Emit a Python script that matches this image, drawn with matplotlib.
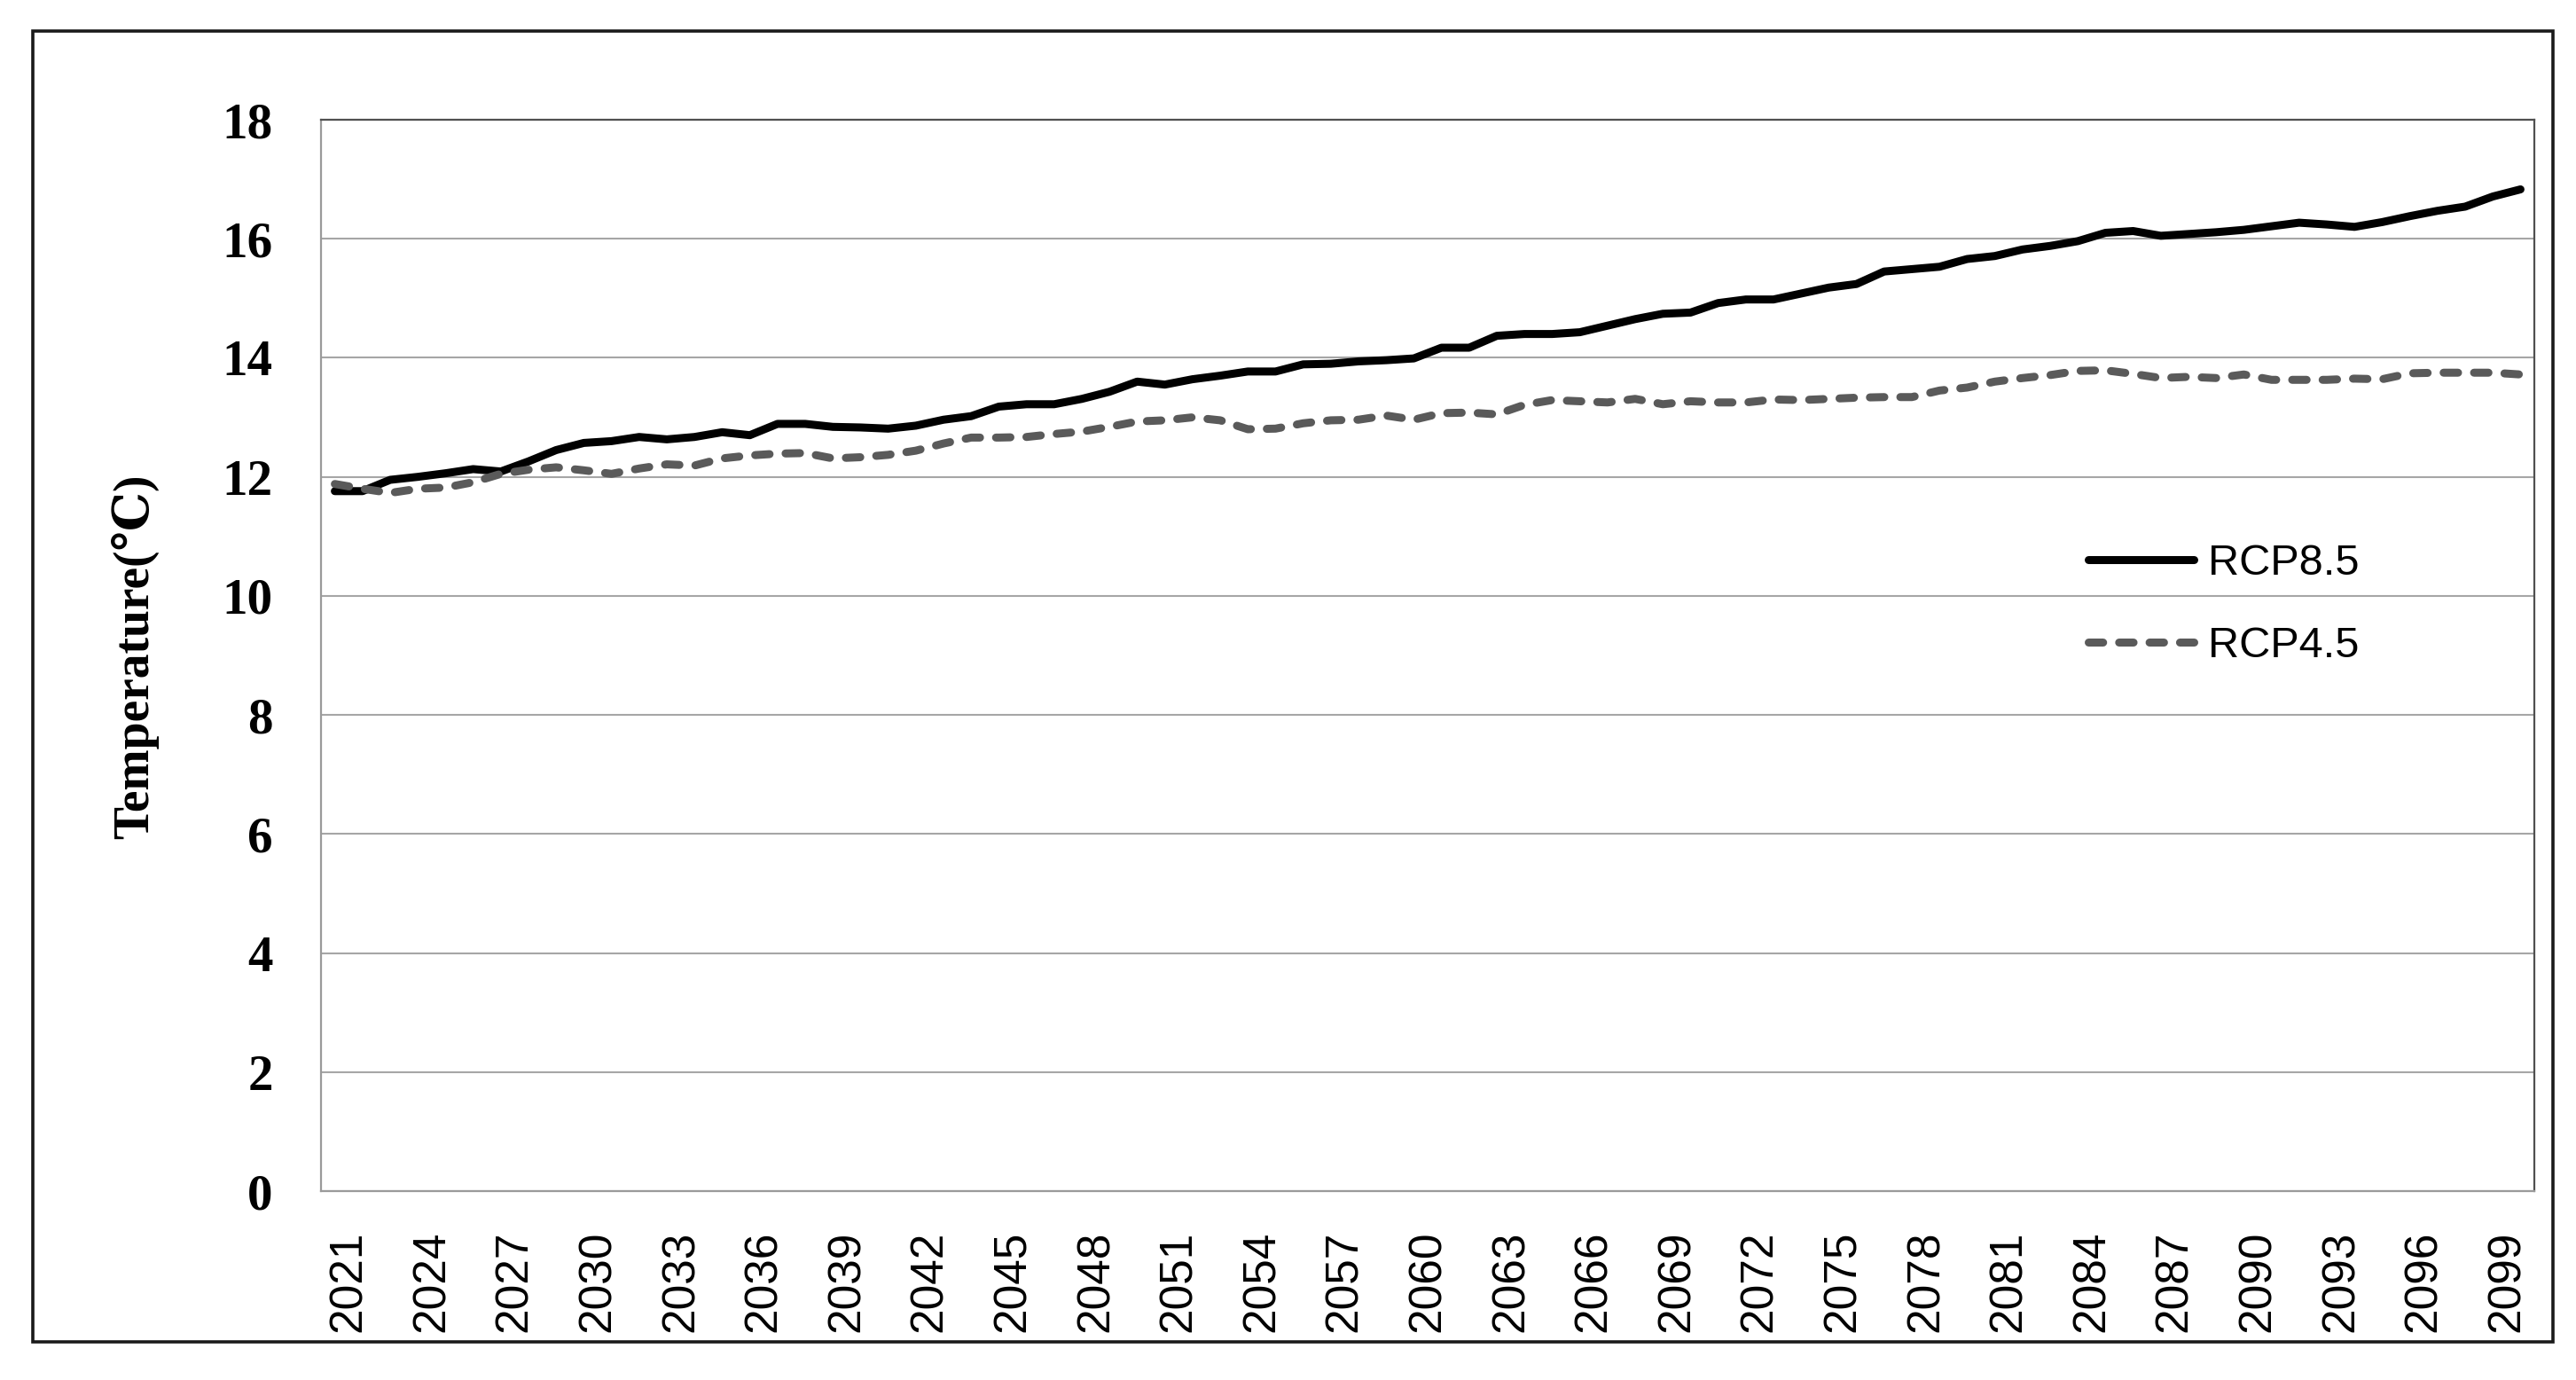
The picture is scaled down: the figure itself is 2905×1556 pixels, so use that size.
import matplotlib
matplotlib.use("Agg")
import matplotlib.pyplot as plt
from matplotlib.patches import Rectangle
from matplotlib.transforms import ScaledTranslation

# Data (annual mean temperature)
years = list(range(2021, 2101))
rcp85 = [11.76, 11.76, 11.95, 12.00, 12.06, 12.13, 12.09, 12.26, 12.45, 12.57,
         12.60, 12.67, 12.63, 12.67, 12.75, 12.70, 12.89, 12.89, 12.84, 12.83,
         12.81, 12.86, 12.96, 13.02, 13.18, 13.22, 13.22, 13.31, 13.43, 13.60,
         13.55, 13.64, 13.70, 13.77, 13.77, 13.89, 13.90, 13.94, 13.96, 13.99,
         14.17, 14.17, 14.37, 14.40, 14.40, 14.43, 14.54, 14.65, 14.74, 14.76,
         14.92, 14.98, 14.98, 15.08, 15.18, 15.24, 15.45, 15.49, 15.53, 15.66,
         15.71, 15.82, 15.88, 15.96, 16.10, 16.13, 16.05, 16.08, 16.11, 16.15,
         16.21, 16.27, 16.24, 16.20, 16.28, 16.38, 16.47, 16.54, 16.71, 16.83]
rcp45 = [11.88, 11.80, 11.73, 11.80, 11.82, 11.91, 12.05, 12.12, 12.16, 12.11,
         12.05, 12.14, 12.21, 12.19, 12.31, 12.36, 12.39, 12.40, 12.31, 12.33,
         12.37, 12.44, 12.56, 12.66, 12.66, 12.67, 12.72, 12.76, 12.84, 12.93,
         12.95, 13.00, 12.95, 12.80, 12.81, 12.90, 12.95, 12.96, 13.03, 12.96,
         13.07, 13.08, 13.05, 13.21, 13.29, 13.27, 13.25, 13.31, 13.22, 13.27,
         13.25, 13.25, 13.30, 13.29, 13.31, 13.33, 13.34, 13.34, 13.45, 13.50,
         13.60, 13.66, 13.71, 13.78, 13.79, 13.73, 13.66, 13.68, 13.66, 13.72,
         13.63, 13.63, 13.63, 13.65, 13.64, 13.74, 13.75, 13.75, 13.75, 13.72]
y_ticks = list(range(0, 19, 2))
label_step = 3

W, H, DPI = 2905, 1556, 100
fig = plt.figure(figsize=(W / DPI, H / DPI), dpi=DPI)
fig.patch.set_facecolor("white")

# outer frame around the whole chart
fig.patches.append(Rectangle((37 / W, 1 - 1513 / H), (2879 - 37) / W, (1513 - 35) / H,
                             transform=fig.transFigure, fill=False,
                             edgecolor="#1a1a1a", linewidth=2.6, zorder=0))

ax = fig.add_axes([362 / W, 1 - 1343 / H, (2858 - 362) / W, (1343 - 135) / H])

x = list(range(len(years)))
ax.plot(x, rcp85, color="black", linewidth=6.5, solid_capstyle="round",
        solid_joinstyle="round", label="RCP8.5", zorder=3)
ax.plot(x, rcp45, color="#5a5a5a", linewidth=6.5, linestyle=(0, (1.8, 2.0)),
        dash_capstyle="round", dash_joinstyle="round", label="RCP4.5", zorder=3)

ax.set_xlim(-0.5, len(years) - 0.5)
ax.set_ylim(0, 18)
ax.set_yticks(y_ticks)
ax.yaxis.grid(True, color="#a6a6a6", linewidth=1.5)
ax.set_axisbelow(True)

ax.tick_params(axis="y", length=0, pad=39)
ax.tick_params(axis="x", length=0, pad=32)
for t in ax.get_yticklabels():
    t.set_fontfamily("Liberation Serif")
    t.set_fontweight("bold")
    t.set_fontsize(41)

ax.set_xticks(x[::label_step])
ax.set_xticklabels([str(y) for y in years[::label_step]], rotation=90,
                   fontfamily="Liberation Sans", fontsize=37)
shift = ScaledTranslation(16 / DPI, 0, fig.dpi_scale_trans)
for t in ax.get_xticklabels():
    t.set_transform(t.get_transform() + shift)

for side in ["left", "bottom"]:
    ax.spines[side].set_color("#9a9a9a")
    ax.spines[side].set_linewidth(1.6)
for side in ["top", "right"]:
    ax.spines[side].set_color("#505050")
    ax.spines[side].set_linewidth(1.6)

fig.text(152 / W, 1 - 740 / H, "Temperature(℃)", rotation=90, ha="center", va="center",
         fontsize=40, fontweight="bold", family=["Liberation Serif", "DejaVu Serif"])

ax.legend(loc="center left", bbox_to_anchor=(2355 / W, 1 - 682 / H),
          bbox_transform=fig.transFigure, frameon=False, borderpad=0, borderaxespad=0,
          handlelength=2.45, handletextpad=0.33, labelspacing=0.98,
          prop={"family": "Liberation Sans", "size": 35})

fig.savefig("out.png", dpi=DPI, facecolor="white")
